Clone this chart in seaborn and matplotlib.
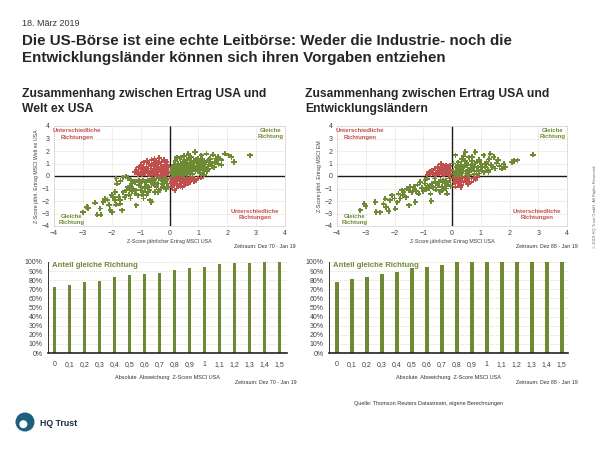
import numpy as np
import pandas as pd
import seaborn as sns
import matplotlib.pyplot as plt
from matplotlib.patches import Circle

# ---- Daten (aus der Grafik geschaetzt) ----
# Z-Score jaehrl. Ertrag: (MSCI USA, MSCI Welt ex USA)
welt_q3 = [(-3.0, -2.9), (-2.87, -2.48), (-2.82, -2.56), (-2.58, -2.13), (-2.5, -3.1), (-2.38, -3.1),
           (-2.29, -2.08), (-2.23, -1.81), (-2.15, -1.9), (-2.1, -2.3), (-2.05, -2.7), (-1.99, -2.9),
           (-1.96, -1.7), (-1.9, -1.95), (-1.88, -1.28), (-1.84, -0.2), (-1.82, -0.61), (-1.76, -1.68),
           (-1.72, -1.95), (-1.71, -2.21), (-1.65, -2.74), (-1.6, -0.1), (-1.55, -1.68), (-1.5, -0.05),
           (-1.49, -1.14), (-1.43, -0.15), (-1.4, -1.5), (-1.37, -0.88), (-1.32, -0.35), (-1.3, -1.2),
           (-1.26, -1.0), (-1.2, -0.48), (-1.15, -1.14), (-1.15, -2.34), (-1.1, -1.55), (-1.05, -0.35),
           (-1.0, -1.15), (-0.97, -0.88), (-0.92, -0.34), (-0.9, -1.8), (-0.85, -0.5), (-0.8, -1.54),
           (-0.8, -0.75), (-0.75, -0.35), (-0.7, -1.1), (-0.68, -1.94), (-0.63, -2.08), (-0.6, -0.48),
           (-0.55, -0.3), (-0.5, -1.28), (-0.45, -0.88), (-0.4, -0.6), (-0.35, -1.15), (-0.3, -0.3),
           (-0.25, -0.67), (-0.2, -0.9), (-0.15, -0.45), (-0.1, -0.6), (-0.05, -0.88), (-0.6, -0.2),
           (-0.3, -1.0), (-0.45, -0.2), (-0.15, -0.25), (-1.0, -0.6), (-0.7, -0.9), (-0.2, -0.15),
           (-0.5, -0.55), (-0.9, -1.3), (-0.35, -0.1), (-0.1, -0.3),
           (-0.55, -0.7), (-0.65, -0.5), (-0.75, -1.25), (-0.85, -0.95), (-0.95, -1.5), (-1.05, -0.75),
           (-1.2, -1.4), (-1.3, -0.6), (-1.45, -0.9), (-1.6, -1.3), (-1.7, -0.4), (-1.35, -1.8),
           (-0.4, -1.3), (-0.25, -0.4), (-0.12, -1.05), (-2.0, -1.5), (-1.85, -2.3), (-2.4, -2.6)]
welt_q2 = [(-1.2, 0.3), (-1.15, 0.5), (-1.1, 0.15), (-1.05, 0.7), (-1.0, 0.35), (-0.98, 0.9),
           (-0.95, 0.1), (-0.9, 0.55), (-0.88, 1.1), (-0.85, 0.25), (-0.8, 0.75), (-0.78, 1.2),
           (-0.75, 0.4), (-0.7, 0.95), (-0.7, 0.1), (-0.65, 0.6), (-0.62, 1.3), (-0.6, 0.3),
           (-0.55, 0.8), (-0.55, 1.05), (-0.5, 0.45), (-0.5, 0.15), (-0.45, 1.2), (-0.45, 0.65),
           (-0.4, 0.3), (-0.4, 0.95), (-0.35, 1.45), (-0.35, 0.5), (-0.3, 0.1), (-0.3, 0.75),
           (-0.28, 1.1), (-0.25, 0.35), (-0.2, 0.6), (-0.2, 1.3), (-0.15, 0.2), (-0.15, 0.9),
           (-0.1, 0.45), (-0.1, 1.15), (-0.05, 0.7), (-0.05, 0.25), (-0.6, 0.05), (-0.85, 0.45),
           (-0.25, 0.05), (-0.12, 0.05), (-0.65, 0.85), (-0.42, 0.05), (-0.18, 0.45), (-0.08, 0.9),
           (-0.32, 0.6), (-0.95, 0.65), (-0.52, 1.35), (-0.75, 0.2)]
welt_q4 = [(0.05, -0.2), (0.05, -0.6), (0.1, -0.9), (0.12, -0.35), (0.15, -0.1), (0.18, -1.14),
           (0.2, -0.55), (0.24, -1.0), (0.25, -0.25), (0.3, -0.75), (0.35, -0.4), (0.35, -0.1),
           (0.4, -0.6), (0.45, -0.9), (0.45, -0.2), (0.5, -0.45), (0.55, -0.7), (0.6, -0.15),
           (0.6, -0.35), (0.65, -0.55), (0.7, -0.48), (0.75, -0.25), (0.8, -0.1), (0.85, -0.4),
           (0.93, -0.34), (1.0, -0.2), (1.1, -0.13), (0.08, -0.45), (0.28, -0.05), (0.42, -0.35),
           (0.15, -0.75), (0.38, -0.85), (0.52, -0.2), (0.62, -0.6), (0.72, -0.3), (0.22, -0.4)]
welt_q1 = [(0.05, 0.3), (0.1, 0.6), (0.1, 0.15), (0.15, 0.9), (0.2, 0.4), (0.2, 1.2), (0.25, 0.7),
           (0.3, 0.2), (0.3, 1.0), (0.35, 0.5), (0.35, 1.4), (0.4, 0.8), (0.4, 0.1), (0.45, 1.15),
           (0.45, 0.35), (0.5, 0.6), (0.5, 1.6), (0.55, 0.9), (0.55, 0.2), (0.6, 1.3), (0.6, 0.45),
           (0.65, 0.75), (0.65, 1.79), (0.7, 1.05), (0.7, 0.3), (0.75, 0.55), (0.75, 1.5), (0.8, 0.85),
           (0.8, 0.15), (0.85, 1.2), (0.88, 1.92), (0.9, 0.6), (0.9, 0.4), (0.95, 1.0), (1.0, 1.4),
           (1.0, 0.7), (1.05, 0.25), (1.1, 0.9), (1.1, 1.66), (1.15, 1.2), (1.17, 0.5), (1.2, 0.75),
           (1.25, 1.1), (1.28, 1.79), (1.3, 0.4), (1.34, 0.59), (1.35, 1.3), (1.4, 1.39), (1.4, 0.9),
           (1.45, 1.0), (1.51, 1.71), (1.55, 0.7), (1.57, 1.12), (1.6, 1.4), (1.68, 1.52), (1.7, 0.95),
           (1.8, 1.26), (1.8, 0.86), (1.92, 1.79), (2.04, 1.66), (2.15, 1.52), (2.23, 1.12), (2.79, 1.66),
           (0.15, 0.05), (0.25, 1.5), (0.5, 0.05), (0.6, 0.95), (0.85, 0.5), (1.05, 1.15), (1.2, 0.1),
           (0.12, 0.45), (0.18, 0.75), (0.22, 0.2), (0.28, 0.55), (0.32, 0.85), (0.38, 0.3),
           (0.42, 0.65), (0.48, 0.95), (0.52, 1.25), (0.58, 0.35), (0.62, 0.65), (0.68, 1.45),
           (0.72, 0.85), (0.78, 0.4), (0.82, 1.1), (0.88, 0.7), (0.92, 1.3), (0.98, 0.5),
           (1.02, 0.9), (1.08, 0.6), (1.12, 1.35), (1.22, 0.95), (1.28, 0.6), (1.38, 1.15),
           (1.48, 0.8), (1.62, 1.2), (1.75, 1.4), (0.4, 1.5), (0.55, 1.05), (0.7, 0.15)]

# Z-Score jaehrl. Ertrag: (MSCI USA, MSCI EM)
em_q3 = [(-3.19, -2.74), (-3.05, -2.21), (-3.0, -2.43), (-2.67, -2.08), (-2.63, -2.88), (-2.5, -2.9),
         (-2.38, -2.21), (-2.32, -1.81), (-2.3, -2.48), (-2.2, -2.8), (-2.15, -1.95), (-2.09, -1.54),
         (-2.0, -1.8), (-1.97, -2.61), (-1.9, -2.1), (-1.86, -1.41), (-1.8, -1.8), (-1.74, -1.15),
         (-1.7, -1.55), (-1.68, -1.28), (-1.57, -1.01), (-1.51, -1.14), (-1.5, -2.35), (-1.45, -0.88),
         (-1.4, -1.3), (-1.33, -0.88), (-1.3, -1.05), (-1.28, -2.08), (-1.2, -0.7), (-1.16, -1.41),
         (-1.1, -0.48), (-1.05, -0.95), (-1.0, -1.2), (-0.93, -0.29), (-0.87, -0.21), (-0.85, -0.8),
         (-0.8, -1.0), (-0.75, -1.41), (-0.72, -2.0), (-0.7, -0.6), (-0.65, -0.9), (-0.6, -0.45),
         (-0.55, -1.1), (-0.5, -0.75), (-0.45, -0.5), (-0.41, -1.28), (-0.35, -0.85), (-0.3, -0.35),
         (-0.25, -0.6), (-0.2, -1.0), (-0.17, -1.41), (-0.12, -0.5), (-0.08, -0.2), (-0.05, -0.8),
         (-0.6, -0.2), (-0.3, -1.1), (-0.95, -0.6), (-0.4, -0.3), (-0.55, -0.6), (-0.75, -0.75),
         (-0.9, -1.1), (-1.25, -1.2), (-1.6, -1.7), (-0.2, -0.4), (-0.15, -0.7)]
em_q2 = [(-0.86, 0.1), (-0.8, 0.3), (-0.75, 0.15), (-0.7, 0.45), (-0.65, 0.25), (-0.6, 0.6),
         (-0.55, 0.1), (-0.5, 0.4), (-0.48, 0.75), (-0.45, 0.2), (-0.4, 0.55), (-0.38, 0.95),
         (-0.35, 0.3), (-0.3, 0.7), (-0.28, 0.1), (-0.25, 0.45), (-0.2, 0.85), (-0.2, 0.25),
         (-0.15, 0.6), (-0.12, 0.35), (-0.1, 0.05), (-0.08, 0.8), (-0.05, 0.5), (-0.05, 0.2),
         (-0.6, 0.05), (-0.33, 0.15)]
em_q4 = [(0.05, -0.15), (0.08, -0.5), (0.12, -0.85), (0.15, -0.3), (0.2, -0.6), (0.22, -0.1),
         (0.28, -0.4), (0.32, -0.75), (0.35, -0.2), (0.4, -0.5), (0.45, -0.1), (0.5, -0.35),
         (0.55, -0.65), (0.6, -0.2), (0.68, -0.45), (0.75, -0.15), (0.82, -0.3), (0.87, -0.08),
         (0.1, -0.05), (0.3, -0.9)]
em_q1 = [(0.05, 0.4), (0.1, 0.15), (0.12, 1.66), (0.15, 0.7), (0.2, 0.3), (0.22, 1.1), (0.25, 0.55),
         (0.3, 0.1), (0.3, 0.9), (0.35, 1.35), (0.38, 0.4), (0.42, 0.75), (0.46, 1.92), (0.48, 0.2),
         (0.5, 1.05), (0.55, 0.5), (0.58, 1.5), (0.6, 0.3), (0.65, 0.85), (0.7, 1.2), (0.72, 0.55),
         (0.78, 0.15), (0.8, 1.0), (0.81, 1.92), (0.85, 0.4), (0.9, 0.7), (0.95, 1.3), (1.0, 0.5),
         (1.02, 0.95), (1.1, 1.66), (1.1, 0.3), (1.15, 0.75), (1.2, 1.15), (1.25, 0.5), (1.27, 0.32),
         (1.33, 1.79), (1.35, 0.9), (1.45, 1.52), (1.5, 0.6), (1.55, 1.05), (1.65, 0.8), (1.74, 0.59),
         (1.8, 0.99), (1.85, 0.7), (2.09, 1.12), (2.15, 1.2), (2.28, 1.26), (2.82, 1.71), (0.05, 1.0),
         (0.4, 1.6), (0.6, 0.05), (0.95, 0.2), (1.3, 1.35), (0.25, 0.02), (0.15, 0.25), (0.32, 0.6),
         (0.45, 1.2), (0.52, 0.85), (0.62, 0.5), (0.75, 0.75), (0.88, 1.15), (0.92, 0.45),
         (1.05, 0.7), (1.18, 0.95), (1.4, 0.7), (0.7, 1.55), (0.2, 0.85), (1.6, 1.3)]

# Anteil gleiche Richtung je absoluter Abweichung
abw_labels = ["0", "0,1", "0,2", "0,3", "0,4", "0,5", "0,6", "0,7",
              "0,8", "0,9", "1", "1,1", "1,2", "1,3", "1,4", "1,5"]
anteil_welt = [0.725, 0.75, 0.775, 0.79, 0.83, 0.86, 0.87, 0.88,
               0.917, 0.934, 0.945, 0.975, 0.989, 0.989, 0.996, 0.996]
anteil_em = [0.78, 0.817, 0.835, 0.868, 0.89, 0.934, 0.95, 0.963,
             1.0, 1.0, 1.0, 1.0, 1.0, 1.0, 1.0, 1.0]

green = "#6f8a35"
red = "#c0504d"
grid_c = "#e2cabc"

sns.set_style("white")
plt.rcParams['font.family'] = ['Liberation Sans', 'DejaVu Sans']
narrow = ['Liberation Sans Narrow', 'Liberation Sans', 'DejaVu Sans']

fig = plt.figure(figsize=(6, 4.5), dpi=100)


def make_df(pts, ycol):
    df = pd.DataFrame(pts, columns=["usa", ycol])
    df["richtung"] = np.where(df["usa"] * df[ycol] > 0, "gleich", "unterschiedlich")
    return df


def scatter_panel(ax, df, ycol, ylabel, zeitraum):
    ax.axhline(0, color="#1a1a1a", lw=1.0, zorder=1)
    ax.axvline(0, color="#1a1a1a", lw=1.0, zorder=1)
    sns.scatterplot(data=df, x="usa", y=ycol, hue="richtung",
                    palette={"gleich": green, "unterschiedlich": red},
                    marker="P", s=15, linewidth=0, legend=False, ax=ax, zorder=2)
    ax.set_xlim(-4, 4)
    ax.set_ylim(-4, 4)
    ax.set_xticks(range(-4, 5))
    ax.set_yticks(range(-4, 5))
    ax.grid(True, color=grid_c, linestyle=(0, (1, 1.5)), linewidth=0.6)
    for s in ax.spines.values():
        s.set_color(grid_c)
        s.set_linestyle((0, (1, 1.5)))
        s.set_linewidth(0.6)
    ax.tick_params(length=0, labelsize=5, colors="#404040", pad=3)
    ax.set_xlabel("Z-Score jährlicher Ertrag MSCI USA", fontsize=3.8,
                  family=narrow, color="#404040", labelpad=1.5)
    ax.set_ylabel(ylabel, fontsize=3.8, family=narrow, color="#404040", labelpad=2)
    kw = dict(ha="center", va="center", fontsize=4.3, fontweight="bold", linespacing=1.35)
    ax.text(-3.2, 3.35, "Unterschiedliche\nRichtungen", color=red, **kw)
    ax.text(3.5, 3.4, "Gleiche\nRichtung", color=green, **kw)
    ax.text(-3.4, -3.5, "Gleiche\nRichtung", color=green, **kw)
    ax.text(2.96, -3.1, "Unterschiedliche\nRichtungen", color=red, **kw)
    ax.text(1.045, -0.2, zeitraum, transform=ax.transAxes, ha="right", va="center",
            fontsize=3.8, family=narrow, color="#333333")


def bar_panel(ax, werte, zeitraum, xlim):
    sns.barplot(x=abw_labels, y=werte, order=abw_labels, color=green,
                saturation=1, width=0.24, linewidth=0, ax=ax, zorder=2)
    ax.set_ylim(0, 1)
    ax.set_xlim(*xlim)
    yt = np.arange(0, 1.01, 0.1)
    ax.set_yticks(yt)
    ax.set_yticklabels([f"{int(round(v * 100))}%" for v in yt])
    ax.yaxis.grid(True, color=grid_c, linestyle=(0, (1, 1.5)), linewidth=0.6, zorder=0)
    ax.xaxis.grid(False)
    sns.despine(ax=ax, top=True, right=True)
    ax.spines["bottom"].set_color("#222222")
    ax.spines["bottom"].set_linewidth(1.2)
    ax.spines["left"].set_color("#333333")
    ax.spines["left"].set_linewidth(0.7)
    ax.tick_params(length=0, labelsize=5, colors="#404040")
    ax.tick_params(axis="x", pad=6)
    ax.tick_params(axis="y", pad=4)
    ax.set_xlabel("Absolute  Abweichung  Z-Score MSCI USA", fontsize=4,
                  family=narrow, color="#333333", labelpad=5)
    ax.text(0.015, 0.965, "Anteil gleiche Richtung", transform=ax.transAxes,
            ha="left", va="center", fontsize=5.6, fontweight="bold", color=green)
    ax.text(1.04, -0.32, zeitraum, transform=ax.transAxes, ha="right", va="center",
            fontsize=3.8, family=narrow, color="#333333")


ax1 = fig.add_axes([54 / 600, 1 - 226 / 450, 231 / 600, 100 / 450])
scatter_panel(ax1, make_df(welt_q3 + welt_q2 + welt_q4 + welt_q1, "welt"), "welt",
              "Z-Score jährl. Ertrag MSCI Welt ex USA", "Zeitraum: Dez 70 - Jan 19")

ax2 = fig.add_axes([337 / 600, 1 - 226 / 450, 230 / 600, 100 / 450])
scatter_panel(ax2, make_df(em_q3 + em_q2 + em_q4 + em_q1, "em"), "em",
              "Z-Score jährl. Ertrag MSCI EM", "Zeitraum: Dez 88 - Jan 19")

bx1 = fig.add_axes([48 / 600, 1 - 353 / 450, 239 / 600, 91 / 450])
bar_panel(bx1, anteil_welt, "Zeitraum: Dez 70 - Jan 19", (-0.42, 15.5))

bx2 = fig.add_axes([329 / 600, 1 - 353 / 450, 239 / 600, 91 / 450])
bar_panel(bx2, anteil_em, "Zeitraum: Dez 88 - Jan 19", (-0.52, 15.42))

# ---- Texte ----
fig.text(22 / 600, 1 - 24 / 450, "18. März 2019", fontsize=6.5, color="#333333", va="center")
fig.text(22 / 600, 1 - 41 / 450, "Die US-Börse ist eine echte Leitbörse: Weder die Industrie- noch die",
         fontsize=10.9, fontweight="bold", va="center")
fig.text(22 / 600, 1 - 58 / 450, "Entwicklungsländer können sich ihren Vorgaben entziehen",
         fontsize=10.9, fontweight="bold", va="center")
fig.text(22 / 600, 1 - 94 / 450, "Zusammenhang zwischen Ertrag USA und", fontsize=8.75,
         fontweight="bold", va="center")
fig.text(22 / 600, 1 - 109 / 450, "Welt ex USA", fontsize=8.75, fontweight="bold", va="center")
fig.text(305 / 600, 1 - 94 / 450, "Zusammenhang zwischen Ertrag USA und", fontsize=8.75,
         fontweight="bold", va="center")
fig.text(305 / 600, 1 - 109 / 450, "Entwicklungsländern", fontsize=8.75, fontweight="bold", va="center")
fig.text(503 / 600, 1 - 403 / 450, "Quelle: Thomson Reuters Datastream, eigene Berechnungen",
         fontsize=4, family=narrow, color="#333333", ha="right", va="center")
fig.text(595 / 600, 1 - 206 / 450, "© 2019 HQ Trust GmbH. All Rights Reserved.", fontsize=3,
         color="#666666", rotation=90, ha="center", va="center")

# Logo
lx = fig.add_axes([14 / 600, 1 - 433 / 450, 22 / 600, 22 / 450])
lx.set_xlim(-1, 1)
lx.set_ylim(-1, 1)
lx.set_aspect("equal")
lx.axis("off")
lx.add_patch(Circle((0, 0), 0.8, color="#1d5f7c"))
lx.add_patch(Circle((-0.15, -0.2), 0.3, color="white"))
fig.text(40 / 600, 1 - 423 / 450, "HQ Trust", fontsize=6.3, fontweight="bold",
         color="#1a2a3a", va="center")

fig.savefig("out.png", dpi=100)
